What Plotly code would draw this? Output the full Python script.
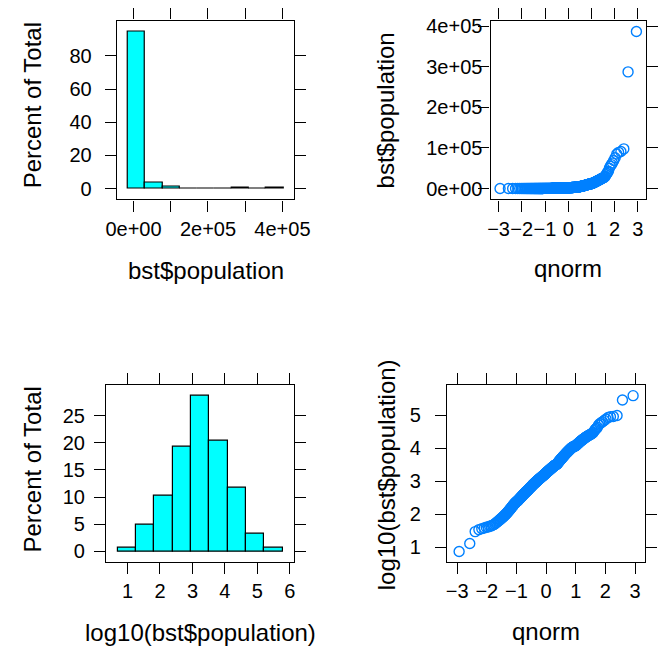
import math
from statistics import NormalDist

import numpy as np
import plotly.graph_objects as go

# Sorted log10 of bst$population (300 places)
log10_population = [
    0.88, 1.12,
    1.48, 1.54, 1.57, 1.59, 1.61, 1.62, 1.64, 1.65, 1.67, 1.69, 1.71, 1.74, 1.76, 1.79, 1.81,
    1.84, 1.85, 1.88, 1.90, 1.91, 1.94, 1.96, 1.97, 2.00, 2.02,
    2.03, 2.06, 2.08, 2.09, 2.12, 2.14, 2.15, 2.18, 2.19, 2.21,
    2.23, 2.25, 2.27, 2.28, 2.30, 2.32, 2.33, 2.34, 2.36, 2.37, 2.38,
    2.39, 2.40, 2.42, 2.43, 2.43, 2.45, 2.46, 2.47, 2.48, 2.50,
    2.51, 2.52, 2.53, 2.54, 2.55, 2.57, 2.58, 2.59, 2.60, 2.61,
    2.62, 2.63, 2.64, 2.65, 2.66, 2.67, 2.68, 2.69, 2.70, 2.70,
    2.71, 2.72, 2.73, 2.74, 2.75, 2.76, 2.77, 2.78, 2.79, 2.80,
    2.81, 2.82, 2.83, 2.83, 2.84, 2.85, 2.86, 2.87, 2.88, 2.89,
    2.90, 2.90, 2.91, 2.92, 2.93, 2.94, 2.94, 2.95,
    2.96, 2.96, 2.97, 2.98, 2.99, 2.99, 3.00, 3.01, 3.01, 3.02,
    3.03, 3.04, 3.04, 3.05, 3.06, 3.06, 3.07, 3.08, 3.08, 3.09,
    3.10, 3.10, 3.11, 3.12, 3.12, 3.13, 3.14, 3.14, 3.15, 3.16,
    3.16, 3.17, 3.18, 3.18, 3.19, 3.20, 3.20, 3.21, 3.22, 3.22,
    3.23, 3.24, 3.24, 3.25, 3.26, 3.26, 3.27, 3.28, 3.28, 3.29,
    3.30, 3.30, 3.31, 3.32, 3.32, 3.33, 3.34, 3.34, 3.35, 3.36,
    3.36, 3.37, 3.38, 3.38, 3.39, 3.40, 3.40, 3.41, 3.42, 3.42,
    3.43, 3.44, 3.44, 3.45, 3.46, 3.46, 3.47, 3.48, 3.48, 3.49,
    3.49, 3.50, 3.50, 3.51, 3.51, 3.51,
    3.52, 3.53, 3.54, 3.55, 3.56, 3.57, 3.58, 3.59, 3.60, 3.61,
    3.62, 3.63, 3.64, 3.65, 3.66, 3.67, 3.68, 3.69, 3.70, 3.71,
    3.72, 3.73, 3.74, 3.75, 3.76, 3.77, 3.78, 3.79, 3.80, 3.81,
    3.82, 3.83, 3.84, 3.85, 3.86, 3.87, 3.88, 3.89, 3.90, 3.91,
    3.92, 3.93, 3.94, 3.95, 3.96, 3.97, 3.98, 3.99, 4.00, 4.01,
    4.02, 4.03, 4.03, 4.04, 4.05, 4.05, 4.06, 4.06, 4.07, 4.07, 4.08,
    4.09, 4.10, 4.11, 4.13, 4.14, 4.15, 4.16, 4.18, 4.19, 4.20,
    4.21, 4.23, 4.24, 4.25, 4.26, 4.28, 4.29, 4.30, 4.31, 4.33,
    4.34, 4.35, 4.36, 4.38, 4.39, 4.40, 4.41, 4.43, 4.44, 4.46, 4.48,
    4.53, 4.57, 4.60, 4.63,
    4.70, 4.74, 4.77, 4.80, 4.84, 4.88, 4.93, 4.95, 4.96, 4.99,
    5.459, 5.588,
]
population = [10 ** v for v in log10_population]

# Axis tick positions and labels
pop_ticks = [0, 1e5, 2e5, 3e5, 4e5]
pop_hist_ticktext = ["0e+00", "", "2e+05", "", "4e+05"]
pop_qq_ticktext = ["0e+00", "1e+05", "2e+05", "3e+05", "4e+05"]
pct_ticks_top = [0, 20, 40, 60, 80]
pct_ticks_bottom = [0, 5, 10, 15, 20, 25]
log_ticks_x = [1, 2, 3, 4, 5, 6]
log_ticks_y = [1, 2, 3, 4, 5]
qnorm_ticks = [-3, -2, -1, 0, 1, 2, 3]
qnorm_ticktext = ["\u22123", "\u22122", "\u22121", "0", "1", "2", "3"]

W, H = 668, 649
FONT = "Liberation Sans, Arial, Helvetica, sans-serif"
TICK_SIZE = 20
TITLE_SIZE = 24
BAR_FILL = "#00FFFF"
POINT_COL = "#0080FF"


def extend(lo, hi, prop=0.07):
    d = hi - lo
    return [lo - prop * d, hi + prop * d]


def lattice_hist(values):
    """Equal-width bins over the 4%-extended data range, as percent of total."""
    v = np.asarray(values, dtype=float)
    nint = round(math.log2(len(v)) + 1)
    lo, hi = v.min(), v.max()
    d = hi - lo
    breaks = np.linspace(lo - 0.04 * d, hi + 0.04 * d, nint + 1)
    counts, _ = np.histogram(v, breaks)
    return breaks, 100.0 * counts / len(v)


def qq_x(n):
    nd = NormalDist()
    return [nd.inv_cdf((i - 0.5) / n) for i in range(1, n + 1)]


def dom_x(a, b):
    return [a / W, b / W]


def dom_y(top, bottom):
    return [1 - bottom / H, 1 - top / H]


fig = go.Figure()

# panel frames in pixels: (left, right, top, bottom)
frames = {
    1: (110.3, 295.3, 15.7, 196.0),
    2: (499.7, 661.7, 15.7, 196.0),
    3: (99.0, 295.0, 382.7, 561.7),
    4: (454.3, 661.0, 382.7, 561.7),
}

# --- histograms
for idx, vals in ((1, population), (3, log10_population)):
    br, pct = lattice_hist(vals)
    centers = (br[:-1] + br[1:]) / 2
    width = br[1] - br[0]
    fig.add_trace(go.Bar(
        x=centers, y=pct, width=[width] * len(pct),
        marker=dict(color=BAR_FILL, line=dict(color="black", width=1.2)),
        xaxis=f"x{idx}" if idx > 1 else "x", yaxis=f"y{idx}" if idx > 1 else "y",
        showlegend=False, hoverinfo="skip",
    ))

# --- normal QQ plots
qx = qq_x(len(population))
for idx, vals in ((2, sorted(population)), (4, sorted(log10_population))):
    fig.add_trace(go.Scatter(
        x=qx, y=vals, mode="markers",
        marker=dict(symbol="circle-open", size=10, color=POINT_COL,
                    line=dict(width=1.4, color=POINT_COL)),
        xaxis=f"x{idx}", yaxis=f"y{idx}", showlegend=False, hoverinfo="skip",
    ))

# axis ranges (lattice-style padding)
br1, pct1 = lattice_hist(population)
br3, pct3 = lattice_hist(log10_population)
ranges = {
    1: (extend(br1[0], br1[-1]), extend(0, pct1.max())),
    2: (extend(min(qx), max(qx)), extend(min(population), max(population))),
    3: (extend(br3[0], br3[-1]), extend(0, pct3.max())),
    4: (extend(min(qx), max(qx)), extend(min(log10_population), max(log10_population))),
}
ticks = {
    1: ((pop_ticks, pop_hist_ticktext), (pct_ticks_top, [str(t) for t in pct_ticks_top])),
    2: ((qnorm_ticks, qnorm_ticktext), (pop_ticks, pop_qq_ticktext)),
    3: ((log_ticks_x, [str(t) for t in log_ticks_x]), (pct_ticks_bottom, [str(t) for t in pct_ticks_bottom])),
    4: ((qnorm_ticks, qnorm_ticktext), (log_ticks_y, [str(t) for t in log_ticks_y])),
}
ystandoff = {1: 9, 2: -8, 3: 5, 4: 10}

common = dict(
    showline=True, mirror="ticks", linecolor="black", linewidth=1.2,
    ticks="outside", ticklen=11, tickwidth=1.2, tickcolor="black",
    showgrid=False, zeroline=False, fixedrange=True,
    tickfont=dict(family=FONT, size=TICK_SIZE, color="black"),
)

layout = {}
for i in range(1, 5):
    L, R, T, B = frames[i]
    xr, yr = ranges[i]
    (xtv, xtt), (ytv, ytt) = ticks[i]
    xname = "xaxis" if i == 1 else f"xaxis{i}"
    yname = "yaxis" if i == 1 else f"yaxis{i}"
    anchor_x = "y" if i == 1 else f"y{i}"
    anchor_y = "x" if i == 1 else f"x{i}"
    layout[xname] = dict(common, domain=dom_x(L, R), range=xr, anchor=anchor_x,
                         tickmode="array", tickvals=xtv, ticktext=xtt, tickangle=0)
    layout[yname] = dict(common, domain=dom_y(T, B), range=yr, anchor=anchor_y,
                         tickmode="array", tickvals=ytv, ticktext=ytt, tickangle=0,
                         ticklabelstandoff=ystandoff[i])

# axis titles
titles = [
    ("bst$population", 202.8, 268, 0),
    ("qnorm", 580.7, 266, 0),
    ("log10(bst$population)", 197.0, 632, 0),
    ("qnorm", 557.7, 631, 0),
    ("Percent of Total", 22, 101, -90),
    ("bst$population", 390, 106, -90),
    ("Percent of Total", 22, 468, -90),
    ("log10(bst$population)", 390.7, 473, -90),
]
annotations = [
    dict(text=t, x=x / W, y=1 - y / H, xref="paper", yref="paper",
         xanchor="center", yanchor="middle", showarrow=False, textangle=a,
         font=dict(family=FONT, size=TITLE_SIZE, color="black"))
    for t, x, y, a in titles
]

fig.update_layout(
    width=W, height=H, margin=dict(l=0, r=0, t=0, b=0),
    paper_bgcolor="white", plot_bgcolor="white",
    bargap=0, showlegend=False, annotations=annotations,
    **layout,
)

fig.write_html("out.html", config={"displayModeBar": False})
